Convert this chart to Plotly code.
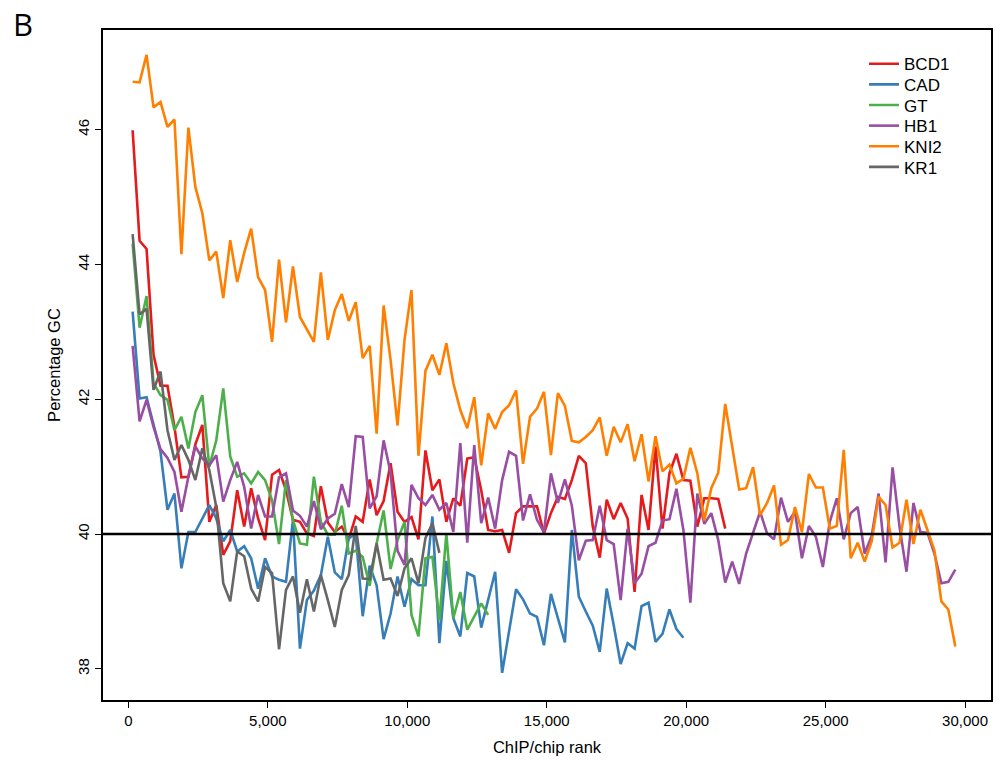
import plotly.graph_objects as go

# Percentage GC in successive bins of 250 ranks (ChIP/chip rank order)
BIN_WIDTH = 250
BIN_START = 150

bcd1 = [45.99, 44.35, 44.23, 42.66, 42.20, 42.20, 41.59, 40.84, 40.85, 41.33,
        41.62, 40.18, 40.43, 39.69, 39.89, 40.65, 40.11, 40.68, 40.23, 39.91,
        40.88, 40.95, 40.65, 40.21, 40.18, 40.01, 39.97, 40.71, 40.17, 40.03,
        40.11, 39.92, 40.26, 40.18, 40.81, 40.28, 40.49, 41.05, 40.33, 40.18,
        40.25, 39.92, 41.24, 40.65, 40.81, 40.18, 40.53, 40.42, 41.12, 41.14,
        40.65, 40.06, 40.04, 40.06, 39.72, 40.31, 40.41, 40.41, 40.41, 40.01,
        40.31, 40.55, 40.52, 40.80, 41.16, 41.05, 40.11, 39.65, 40.51, 40.22,
        40.46, 40.23, 39.14, 40.58, 40.06, 41.30, 40.08, 40.90, 41.19, 40.80,
        40.79, 40.11, 40.53, 40.53, 40.52, 40.08]

cad = [43.30, 42.01, 42.03, 41.62, 41.22, 40.36, 40.60, 39.49, 40.03, 40.03,
       40.23, 40.43, 40.23, 39.89, 40.06, 39.74, 39.82, 39.64, 39.19, 39.64,
       39.37, 39.32, 39.29, 40.21, 38.30, 39.02, 39.16, 39.39, 39.96, 39.43,
       39.33, 39.94, 39.99, 38.78, 39.53, 39.24, 38.44, 38.82, 39.37, 38.92,
       39.33, 39.24, 39.24, 40.26, 38.38, 39.60, 38.75, 38.48, 39.42, 39.37,
       38.61, 39.04, 39.44, 37.94, 38.55, 39.18, 39.03, 38.82, 38.77, 38.35,
       39.11, 38.75, 38.39, 40.06, 39.07, 38.85, 38.64, 38.25, 39.19, 38.65,
       38.07, 38.38, 38.30, 38.93, 38.98, 38.40, 38.52, 38.88, 38.59, 38.46]

gt = [44.31, 43.06, 43.53, 42.24, 42.06, 41.99, 41.54, 41.74, 41.27, 41.81,
      42.06, 41.00, 41.39, 42.16, 41.15, 40.85, 40.90, 40.75, 40.92, 40.80,
      40.50, 39.85, 40.80, 40.21, 39.86, 39.84, 40.85, 40.18, 39.99, 39.99,
      40.42, 39.71, 39.75, 39.66, 39.23, 39.86, 40.35, 39.48, 39.91, 40.18,
      38.80, 38.48, 39.64, 39.66, 38.72, 40.01, 38.75, 39.14, 38.58, 38.77,
      38.97, 38.80]

hb1 = [42.79, 41.67, 41.99, 41.59, 41.26, 41.13, 40.92, 40.33, 40.85, 41.30,
       41.12, 41.02, 41.17, 40.48, 40.80, 41.07, 40.70, 40.08, 40.58, 40.26,
       40.26, 40.84, 40.90, 40.35, 40.27, 40.11, 40.49, 40.07, 40.23, 40.30,
       40.74, 40.40, 41.45, 41.44, 40.38, 40.56, 41.39, 40.91, 39.75, 39.54,
       40.73, 40.53, 40.43, 40.58, 40.36, 40.46, 40.03, 41.35, 39.87, 41.32,
       40.16, 40.54, 40.08, 40.80, 41.22, 41.16, 40.20, 40.59, 40.21, 40.03,
       40.90, 40.46, 40.81, 40.42, 39.61, 39.90, 39.91, 40.42, 39.91, 39.85,
       39.02, 40.08, 39.27, 39.41, 39.82, 39.87, 40.20, 40.22, 40.67, 40.06,
       38.98, 40.60, 40.15, 40.31, 39.91, 39.28, 39.59, 39.26, 39.71, 40.03,
       40.33, 40.01, 39.92, 40.54, 40.18, 40.33, 39.64, 40.12, 39.96, 39.51,
       40.18, 40.53, 39.92, 40.31, 40.40, 39.71, 39.97, 40.60, 39.58, 40.99,
       40.11, 39.44, 40.46, 40.03, 40.02, 39.71, 39.27, 39.29, 39.47]

kni2 = [46.71, 46.70, 47.11, 46.33, 46.41, 46.04, 46.15, 44.15, 46.03, 45.15,
        44.76, 44.06, 44.19, 43.50, 44.36, 43.74, 44.17, 44.53, 43.81, 43.62,
        42.85, 44.07, 43.14, 43.97, 43.22, 43.03, 42.85, 43.88, 42.88, 43.32,
        43.56, 43.16, 43.44, 42.61, 42.79, 41.49, 43.39, 42.58, 41.61, 42.88,
        43.62, 41.16, 42.42, 42.66, 42.36, 42.83, 42.24, 41.84, 41.57, 42.03,
        41.02, 41.79, 41.56, 41.81, 41.91, 42.13, 41.04, 41.74, 41.86, 42.11,
        41.17, 42.09, 41.90, 41.38, 41.36, 41.44, 41.54, 41.73, 41.16, 41.59,
        41.36, 41.63, 41.08, 41.48, 40.78, 41.45, 40.93, 41.03, 40.75, 40.82,
        41.28, 40.90, 40.20, 40.68, 40.91, 41.93, 41.32, 40.66, 40.68, 40.99,
        40.28, 40.46, 40.72, 39.84, 39.91, 40.40, 40.03, 40.89, 40.69, 40.69,
        40.08, 40.12, 41.25, 39.64, 39.87, 39.59, 39.89, 40.55, 40.43, 39.80,
        39.87, 40.51, 39.85, 40.36, 40.06, 39.76, 39.00, 38.88, 38.33]

kr1 = [44.45, 43.26, 43.34, 42.14, 42.41, 41.54, 41.10, 41.32, 41.10, 40.80,
       41.27, 40.95, 40.40, 39.27, 39.00, 39.74, 39.67, 39.19, 39.00, 39.51,
       39.42, 38.29, 39.17, 39.37, 38.83, 39.33, 38.85, 39.39, 39.02, 38.62,
       39.17, 39.39, 40.12, 39.34, 39.33, 39.86, 39.32, 39.34, 39.08, 39.49,
       39.64, 39.27, 39.94, 40.16, 39.72]

series_names = ["BCD1", "CAD", "GT", "HB1", "KNI2", "KR1"]
series_values = [bcd1, cad, gt, hb1, kni2, kr1]
series_colors = ["#e41a1c", "#377eb8", "#4daf4a", "#984ea3", "#ff7f00", "#666666"]

x_tick_vals = [0, 5000, 10000, 15000, 20000, 25000, 30000]
x_tick_text = ["0", "5,000", "10,000", "15,000", "20,000", "25,000", "30,000"]
y_tick_vals = [38, 40, 42, 44, 46]
baseline_gc = 40

FONT = "Liberation Sans, Arial, sans-serif"

# one single-entry legend per series, stacked tightly in the upper right
LEGEND_X = 0.857
LEGEND_TOP = 0.949
LEGEND_STEP = 0.0308

fig = go.Figure()
legend_layout = {}
for i, (name, vals, color) in enumerate(zip(series_names, series_values, series_colors)):
    ranks = [BIN_START + BIN_WIDTH * k for k in range(len(vals))]
    legend_id = "legend" if i == 0 else f"legend{i + 1}"
    fig.add_trace(go.Scatter(
        x=ranks, y=vals, name=name, mode="lines",
        line=dict(color=color, width=2.6),
        legend=legend_id,
    ))
    legend_layout[legend_id] = dict(
        x=LEGEND_X, y=LEGEND_TOP - LEGEND_STEP * i,
        xanchor="left", yanchor="middle",
        bgcolor="rgba(0,0,0,0)", font=dict(size=17, family=FONT),
        itemwidth=30,
    )

# genome-wide GC reference level
fig.add_shape(type="line", xref="paper", yref="y", x0=0, x1=1,
              y0=baseline_gc, y1=baseline_gc,
              line=dict(color="black", width=2.6), layer="above")

fig.add_annotation(text="B", xref="paper", yref="paper", x=-0.104, y=1.043,
                   xanchor="left", yanchor="top", showarrow=False,
                   font=dict(family="Open Sans, sans-serif", size=31, color="black"))

fig.update_layout(
    width=1001, height=768,
    margin=dict(l=103, r=8, t=30, b=68),
    paper_bgcolor="white", plot_bgcolor="white",
    font=dict(family=FONT, color="black"),
    showlegend=True,
    **legend_layout,
)
fig.update_xaxes(
    range=[-912, 30930], tickvals=x_tick_vals, ticktext=x_tick_text,
    showgrid=False, zeroline=False, showline=True, linecolor="black",
    linewidth=1.6, mirror=True, ticks="outside", ticklen=6, tickwidth=1.3,
    tickcolor="black", tickfont=dict(size=15),
    title=dict(text="ChIP/chip rank", font=dict(size=16.5), standoff=14),
)
fig.update_yaxes(
    range=[37.537, 47.478], tickvals=y_tick_vals,
    showgrid=False, zeroline=False, showline=True, linecolor="black",
    linewidth=1.6, mirror=True, ticks="outside", ticklen=6, tickwidth=1.3,
    tickcolor="black", tickfont=dict(size=15), tickangle=-90,
    title=dict(text="Percentage GC", font=dict(size=16.5), standoff=10),
)

fig.write_html("out.html")
